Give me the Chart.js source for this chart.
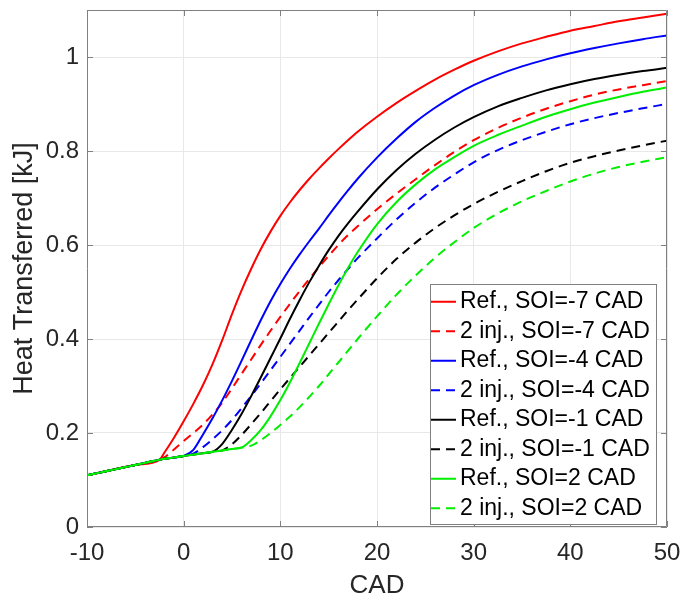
<!DOCTYPE html>
<html>
<head>
<meta charset="utf-8">
<title>Heat Transferred vs CAD</title>
<script src="https://cdn.jsdelivr.net/npm/chart.js@4.4.1/dist/chart.umd.min.js"></script>
<style>
  html, body { margin: 0; padding: 0; background: #fff; }
  canvas { display: block; }
</style>
</head>
<body>
<canvas id="heatChart" width="698" height="601"></canvas>
<script>
// crank angle grid shared by every curve
const cad = [-10, -5, -2.5, -2, -1, 0, 1, 2, 3, 4, 5, 6, 7, 8, 9, 10, 11, 12, 13, 14, 15, 16, 17, 18,
             20, 22, 24, 26, 28, 30, 32.5, 35, 37.5, 40, 42.5, 45, 47.5, 50];

// cumulative heat transferred [kJ]
const refSoiM7 = [0.110, 0.132, 0.143, 0.158, 0.190, 0.225, 0.262, 0.302, 0.347, 0.398, 0.453, 0.504, 0.550, 0.592, 0.629, 0.662, 0.691, 0.717, 0.741, 0.763, 0.784, 0.804, 0.823, 0.841,
                  0.873, 0.902, 0.928, 0.952, 0.973, 0.992, 1.012, 1.029, 1.043, 1.056, 1.066, 1.076, 1.084, 1.092];
const injSoiM7 = [0.110, 0.132, 0.143, 0.148, 0.165, 0.183, 0.200, 0.218, 0.240, 0.265, 0.295, 0.326, 0.357, 0.388, 0.418, 0.447, 0.475, 0.502, 0.528, 0.553, 0.577, 0.600, 0.621, 0.640,
                  0.676, 0.709, 0.740, 0.770, 0.798, 0.823, 0.849, 0.871, 0.890, 0.906, 0.920, 0.931, 0.940, 0.949];
const refSoiM4 = [0.110, 0.132, 0.143, 0.145, 0.148, 0.151, 0.164, 0.197, 0.232, 0.270, 0.311, 0.354, 0.398, 0.441, 0.481, 0.517, 0.550, 0.580, 0.608, 0.635, 0.663, 0.690, 0.716, 0.741,
                  0.786, 0.826, 0.862, 0.892, 0.918, 0.940, 0.962, 0.980, 0.995, 1.008, 1.019, 1.029, 1.038, 1.046];
const injSoiM4 = [0.110, 0.132, 0.143, 0.145, 0.148, 0.151, 0.156, 0.170, 0.187, 0.206, 0.228, 0.253, 0.279, 0.306, 0.334, 0.362, 0.390, 0.418, 0.446, 0.473, 0.500, 0.525, 0.549, 0.572,
                  0.614, 0.654, 0.690, 0.722, 0.750, 0.776, 0.802, 0.823, 0.841, 0.857, 0.870, 0.881, 0.891, 0.900];
const refSoiM1 = [0.110, 0.132, 0.143, 0.145, 0.148, 0.151, 0.154, 0.157, 0.160, 0.177, 0.207, 0.241, 0.279, 0.319, 0.360, 0.401, 0.443, 0.483, 0.521, 0.556, 0.589, 0.619, 0.646, 0.671,
                  0.718, 0.759, 0.794, 0.824, 0.850, 0.872, 0.895, 0.913, 0.929, 0.942, 0.953, 0.962, 0.970, 0.977];
const injSoiM1 = [0.110, 0.132, 0.143, 0.145, 0.148, 0.151, 0.154, 0.157, 0.160, 0.163, 0.176, 0.196, 0.219, 0.243, 0.268, 0.293, 0.317, 0.341, 0.365, 0.389, 0.413, 0.437, 0.461, 0.484,
                  0.529, 0.570, 0.605, 0.636, 0.663, 0.687, 0.713, 0.736, 0.757, 0.775, 0.789, 0.801, 0.812, 0.822];
const refSoiP2 = [0.110, 0.132, 0.143, 0.145, 0.148, 0.151, 0.154, 0.157, 0.160, 0.163, 0.166, 0.169, 0.185, 0.207, 0.236, 0.270, 0.308, 0.349, 0.391, 0.433, 0.474, 0.514, 0.551, 0.585,
                  0.644, 0.691, 0.729, 0.761, 0.787, 0.811, 0.834, 0.854, 0.873, 0.889, 0.903, 0.915, 0.926, 0.935];
const injSoiP2 = [0.110, 0.132, 0.143, 0.145, 0.148, 0.151, 0.154, 0.157, 0.160, 0.163, 0.166, 0.169, 0.173, 0.185, 0.200, 0.217, 0.235, 0.255, 0.277, 0.300, 0.325, 0.350, 0.375, 0.400,
                  0.448, 0.494, 0.535, 0.573, 0.606, 0.636, 0.667, 0.693, 0.715, 0.735, 0.752, 0.766, 0.777, 0.787];

const seriesLabels = [
  'Ref., SOI=-7 CAD', '2 inj., SOI=-7 CAD',
  'Ref., SOI=-4 CAD', '2 inj., SOI=-4 CAD',
  'Ref., SOI=-1 CAD', '2 inj., SOI=-1 CAD',
  'Ref., SOI=2 CAD', '2 inj., SOI=2 CAD'
];
const seriesValues = [refSoiM7, injSoiM7, refSoiM4, injSoiM4, refSoiM1, injSoiM1, refSoiP2, injSoiP2];
const seriesColors = ['#ff0000', '#ff0000', '#0000ff', '#0000ff', '#000000', '#000000', '#00ee00', '#00ee00'];

const xTicks = [-10, 0, 10, 20, 30, 40, 50];
const yTicks = [0, 0.2, 0.4, 0.6, 0.8, 1];
const yTickLabels = ['0', '0.2', '0.4', '0.6', '0.8', '1'];

const fontFamily = '"Liberation Sans", Arial, Helvetica, sans-serif';
const textColor = '#262626';
const axisColor = '#808080';
const gridColor = '#e8e8e8';
const dashPattern = [9, 6];

// box round the plot with inward ticks on all four sides
const axesBox = {
  id: 'axesBox',
  afterDatasetsDraw(chart) {
    const { ctx, chartArea: a, scales: { x, y } } = chart;
    const tick = 6;
    ctx.save();
    ctx.strokeStyle = axisColor;
    ctx.lineWidth = 1;
    ctx.beginPath();
    ctx.rect(Math.round(a.left) + 0.5, Math.round(a.top) + 0.5,
             Math.round(a.right - a.left) - 1, Math.round(a.bottom - a.top) - 1);
    xTicks.forEach(v => {
      const px = Math.round(x.getPixelForValue(v)) + 0.5;
      ctx.moveTo(px, a.bottom); ctx.lineTo(px, a.bottom - tick);
      ctx.moveTo(px, a.top); ctx.lineTo(px, a.top + tick);
    });
    yTicks.forEach(v => {
      const py = Math.round(y.getPixelForValue(v)) + 0.5;
      ctx.moveTo(a.left, py); ctx.lineTo(a.left + tick, py);
      ctx.moveTo(a.right, py); ctx.lineTo(a.right - tick, py);
    });
    ctx.stroke();
    ctx.restore();
  }
};

// legend box in the lower right corner of the plot
const insideLegend = {
  id: 'insideLegend',
  afterDraw(chart) {
    const { ctx, chartArea: a } = chart;
    const rowH = 29.5, sample = 25, gap = 4;
    ctx.save();
    ctx.font = '23px ' + fontFamily;
    const textW = Math.max(...chart.data.datasets.map(ds => ctx.measureText(ds.label).width));
    const w = Math.round(1 + sample + gap + textW + 6);
    const h = Math.round(rowH * chart.data.datasets.length + 4);
    const right = Math.round(a.right) - 11;
    const bottom = Math.round(a.bottom) - 3;
    const left = right - w, top = bottom - h;
    ctx.fillStyle = '#ffffff';
    ctx.fillRect(left, top, w, h);
    ctx.strokeStyle = axisColor;
    ctx.lineWidth = 1;
    ctx.strokeRect(left + 0.5, top + 0.5, w, h);
    chart.data.datasets.forEach((ds, i) => {
      const cy = top + 3 + rowH * (i + 0.5);
      ctx.strokeStyle = ds.borderColor;
      ctx.lineWidth = 2;
      ctx.setLineDash(ds.borderDash || []);
      ctx.beginPath();
      ctx.moveTo(left + 1, cy);
      ctx.lineTo(left + 1 + sample, cy);
      ctx.stroke();
      ctx.setLineDash([]);
      ctx.fillStyle = '#000000';
      ctx.textBaseline = 'middle';
      ctx.textAlign = 'left';
      ctx.fillText(ds.label, left + 1 + sample + gap, cy);
    });
    ctx.restore();
  }
};

const datasets = seriesValues.map((vals, i) => ({
  label: seriesLabels[i],
  data: vals,
  borderColor: seriesColors[i],
  borderDash: i % 2 === 1 ? dashPattern : [],
  borderWidth: 2,
  pointRadius: 0,
  fill: false,
  cubicInterpolationMode: 'monotone',
  order: seriesValues.length - i   // later series drawn on top
}));

// keep tick label overhang from pushing the plot area around
const noScalePadding = s => {
  s.paddingTop = 0; s.paddingBottom = 0;
  s.paddingLeft = 0; s.paddingRight = 0;
};

new Chart(document.getElementById('heatChart'), {
  type: 'line',
  data: { labels: cad, datasets: datasets },
  options: {
    responsive: false,
    animation: false,
    devicePixelRatio: 1,
    layout: { padding: { top: 10, right: 31, left: 0, bottom: 0 } },
    plugins: {
      legend: { display: false },
      tooltip: { enabled: false }
    },
    scales: {
      x: {
        type: 'linear',
        min: -10,
        max: 50,
        afterBuildTicks: s => { s.ticks = xTicks.map(v => ({ value: v })); },
        afterFit: s => { s.height = 74; noScalePadding(s); },
        grid: { color: gridColor, drawTicks: false },
        border: { display: false },
        ticks: {
          padding: 12,
          color: textColor,
          font: { size: 24, family: fontFamily },
          maxRotation: 0,
          autoSkip: false,
          callback: (v, i) => String(xTicks[i])
        },
        title: {
          display: true,
          text: 'CAD',
          color: textColor,
          font: { size: 26, family: fontFamily },
          padding: { top: 0, bottom: 0 }
        }
      },
      y: {
        type: 'linear',
        min: 0,
        max: 1.1,
        afterBuildTicks: s => { s.ticks = yTicks.map(v => ({ value: v })); },
        afterFit: s => { s.width = 87; noScalePadding(s); },
        grid: { color: gridColor, drawTicks: false },
        border: { display: false },
        ticks: {
          padding: 8,
          color: textColor,
          font: { size: 24, family: fontFamily },
          autoSkip: false,
          callback: (v, i) => yTickLabels[i]
        },
        title: {
          display: true,
          text: 'Heat Transferred [kJ]',
          color: textColor,
          font: { size: 27, family: fontFamily },
          padding: { top: 8, bottom: 0 }
        }
      }
    }
  },
  plugins: [axesBox, insideLegend]
});
</script>
</body>
</html>
